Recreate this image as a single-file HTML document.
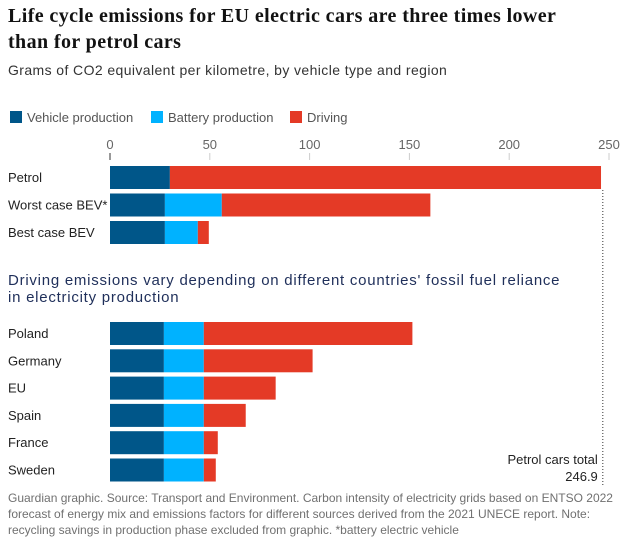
<!DOCTYPE html>
<html><head><meta charset="utf-8"><style>
body{margin:0;background:#fff;width:639px;height:544px;overflow:hidden;font-family:"Liberation Sans",sans-serif;}
.t{position:absolute;white-space:nowrap}
</style></head><body>
<div class="t" style="left:8px;top:3px;font:bold 20px/26px 'Liberation Serif',serif;color:#121212;letter-spacing:0.4px;">Life cycle emissions for EU electric cars are three times lower<br>than for petrol cars</div>
<div class="t" style="left:8px;top:62px;font-size:14px;color:#333;letter-spacing:0.4px;">Grams of CO2 equivalent per kilometre, by vehicle type and region</div>
<svg id="c" width="639" height="544" style="position:absolute;left:0;top:0"></svg>
<div class="t" style="left:8px;top:272px;font-size:15px;line-height:17px;color:#1f2f5a;letter-spacing:0.75px;">Driving emissions vary depending on different countries' fossil fuel reliance<br>in electricity production</div>
<div class="t" style="left:8px;top:490px;font-size:12px;line-height:16px;color:#707070;">Guardian graphic. Source: Transport and Environment. Carbon intensity of electricity grids based on ENTSO 2022<br>forecast of energy mix and emissions factors for different sources derived from the 2021 UNECE report. Note:<br>recycling savings in production phase excluded from graphic. *battery electric vehicle</div>
<script>
const topCats=["Petrol","Worst case BEV*","Best case BEV"];
const topVehicle=[30,27.5,27.5];
const topBattery=[0,28.5,16.5];
const topDriving=[216,104.5,5.5];
const countryCats=["Poland","Germany","EU","Spain","France","Sweden"];
const cVehicle=[27,27,27,27,27,27];
const cBattery=[20,20,20,20,20,20];
const cDriving=[104.5,54.5,36,21,7,6];
const ticks=[0,50,100,150,200,250];
const petrolTotal=246.9;
const NS="http://www.w3.org/2000/svg";
const svg=document.getElementById('c');
const x=v=>110+v*1.996;
const cols=["#005689","#00b2ff","#e43a26"];
function el(t,a,p){const e=document.createElementNS(NS,t);for(const k in a)e.setAttribute(k,a[k]);(p||svg).appendChild(e);return e;}
const leg=["Vehicle production","Battery production","Driving"];const lx=[10,151,290];
leg.forEach((l,i)=>{const r=el('rect',{x:lx[i],y:111,width:12,height:12,fill:cols[i]});

const t=el('text',{x:lx[i]+17,y:122,'font-size':13,fill:'#555'});t.textContent=l;
});
ticks.forEach(v=>{const t=el('text',{x:x(v),y:149,'font-size':13,fill:'#666','text-anchor':'middle'});t.textContent=v;

const l=el('line',{x1:x(v),x2:x(v),y1:153,y2:160,stroke:v==0?'#333':'#ccc'});
});
function rows(cats,vs,y0,step){cats.forEach((c,i)=>{const y=y0+i*step;
const t=el('text',{x:8,y:y+16,'font-size':13,fill:'#222'});t.textContent=c;

let acc=0;vs.forEach((s,j)=>{const v=s[i];if(v>0){const r=el('rect',{x:x(acc),y:y,width:x(acc+v)-x(acc),height:23,fill:cols[j]});
}acc+=v;});});}
rows(topCats,[topVehicle,topBattery,topDriving],166,27.5);
rows(countryCats,[cVehicle,cBattery,cDriving],322,27.3);
const dl=el('line',{x1:x(petrolTotal),x2:x(petrolTotal),y1:190,y2:486,stroke:'#333','stroke-dasharray':'1,2'});

const a1=el('text',{x:x(petrolTotal)-5,y:464,'font-size':13,fill:'#222','text-anchor':'end'});a1.textContent="Petrol cars total";

const a2=el('text',{x:x(petrolTotal)-5,y:481,'font-size':13,fill:'#222','text-anchor':'end'});a2.textContent=petrolTotal;

</script>
</body></html>
